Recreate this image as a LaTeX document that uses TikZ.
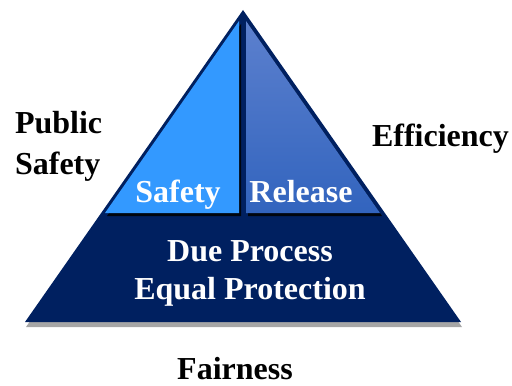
\documentclass[tikz,border=0pt]{standalone}
\usepackage{fontspec}
\setmainfont{Liberation Serif}
\usepackage{tikz}
\definecolor{navy}{RGB}{0,32,96}
\definecolor{lightblue}{RGB}{51,153,255}
\definecolor{relTop}{RGB}{92,128,206}
\definecolor{relBottom}{RGB}{50,100,190}

\begin{document}
\begin{tikzpicture}[x=0.5pt, y=-0.5pt, font=\fontsize{16}{19}\selectfont\bfseries,
   label/.style={text=black, align=center},
   inner/.style={text=white, align=center}]
   \useasboundingbox (0,0) rectangle (512,385);
   \coordinate (apex) at (243,10);
   \coordinate (bl) at (25,322);
   \coordinate (br) at (461,322);
   \fill[color=gray!70] (26,327) -- (244,15) -- (462,327) -- cycle;
   \fill[color=navy] (bl) -- (apex) -- (br) -- cycle;
   \fill[color=black!85!navy] (107,216) -- (241,24) -- (241,216) -- cycle;
   \fill[color=black!85!navy] (248,24) -- (248,216) -- (382,216) -- cycle;
   \fill[color=lightblue] (105,213) -- (239,21) -- (239,213) -- cycle;
   \shade[top color=relTop, bottom color=relBottom] (246,21) -- (246,213) -- (380,213) -- cycle;
   \node[inner, anchor=base] (safety) at (178,202) {Safety};
   \node[inner, anchor=base] (release) at (301,202) {Release};
   \node[inner] (due) at (250,273) {Due Process\\Equal Protection};
   \node[label, align=left, anchor=west] (public) at (8,146) {Public\\[1.5pt]Safety};
   \node[label, anchor=west] (effic) at (365,139) {Efficiency};
   \node[label] (fair) at (235,369) {Fairness};
\end{tikzpicture}
\end{document}
